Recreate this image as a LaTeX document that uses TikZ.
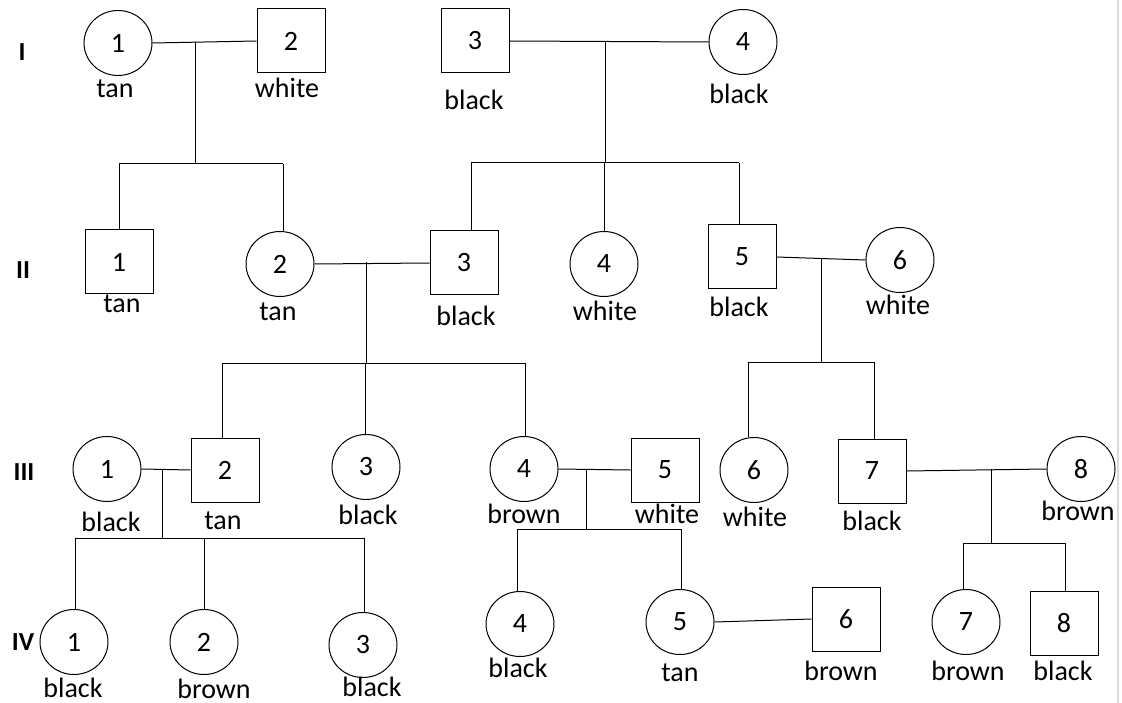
\documentclass[tikz,border=0pt]{standalone}
\usepackage{fontspec}
\setmainfont{Carlito}
\usetikzlibrary{shapes.geometric}
\begin{document}
\begin{tikzpicture}[x=1pt,y=-1pt, line width=1pt,
  fem/.style={draw, ellipse, minimum width=68pt, minimum height=65pt, inner sep=0pt, font=\fontsize{28}{32}\selectfont},
  mal/.style={draw, rectangle, minimum width=68pt, minimum height=64pt, inner sep=0pt, font=\fontsize{28}{32}\selectfont},
  lab/.style={anchor=base, inner sep=0pt, font=\fontsize{28}{32}\selectfont},
  gen/.style={inner sep=0pt, font=\fontsize{26}{30}\selectfont\bfseries},
  ]
\useasboundingbox (0,0) rectangle (1122,703);
\draw[black!15, line width=1.5pt] (1118,0) -- (1118,703);

% generation labels
\node[gen] (g1) at (22,52) {I};
\node[gen] (g2) at (23,270) {II};
\node[gen] (g3) at (24,472) {III};
\node[gen] (g4) at (23,642) {IV};

% generation I
\node[fem] (i1) at (118,43) {1};
\node[mal] (i2) at (291,41) {2};
\node[mal] (i3) at (475,41) {3};
\node[fem] (i4) at (743,42) {4};
\node[lab] (li1) at (115,98) {tan};
\node[lab] (li2) at (287,98) {white};
\node[lab] (li3) at (474,110) {black};
\node[lab] (li4) at (739,104) {black};

% generation II
\node[mal] (ii1) at (119,262) {1};
\node[fem] (ii2) at (280,264) {2};
\node[mal] (ii3) at (464,263) {3};
\node[fem] (ii4) at (604,264) {4};
\node[mal] (ii5) at (742,257) {5};
\node[fem] (ii6) at (900,260) {6};
\node[lab] (lii1) at (122,313) {tan};
\node[lab] (lii2) at (278,321) {tan};
\node[lab] (lii3) at (466,326) {black};
\node[lab] (lii4) at (605,321) {white};
\node[lab] (lii5) at (739,317) {black};
\node[lab] (lii6) at (898,315) {white};

% generation III
\node[fem] (iii1) at (107,469) {1};
\node[mal] (iii2) at (225,470) {2};
\node[fem] (iii3) at (366,467) {3};
\node[fem] (iii4) at (524,469) {4};
\node[mal] (iii5) at (665,470) {5};
\node[fem] (iii6) at (754,470) {6};
\node[mal] (iii7) at (872,471) {7};
\node[fem] (iii8) at (1081,469) {8};
\node[lab] (liii1) at (111,531) {black};
\node[lab] (liii2) at (223,529) {tan};
\node[lab] (liii3) at (368,524) {black};
\node[lab] (liii4) at (524,523) {brown};
\node[lab] (liii5) at (667,523) {white};
\node[lab] (liii6) at (755,526) {white};
\node[lab] (liii7) at (872,530) {black};
\node[lab] (liii8) at (1078,520) {brown};

% generation IV
\node[fem] (iv1) at (74,642) {1};
\node[fem] (iv2) at (204,642) {2};
\node[fem] (iv3) at (363,645) {3};
\node[fem] (iv4) at (520,624) {4};
\node[fem] (iv5) at (680,622) {5};
\node[mal] (iv6) at (846,619) {6};
\node[fem] (iv7) at (966,622) {7};
\node[mal] (iv8) at (1064,623) {8};
\node[lab] (liv1) at (73,697) {black};
\node[lab] (liv2) at (214,698) {brown};
\node[lab] (liv3) at (372,696) {black};
\node[lab] (liv4) at (518,677) {black};
\node[lab] (liv5) at (680,681) {tan};
\node[lab] (liv6) at (841,680) {brown};
\node[lab] (liv7) at (968,680) {brown};
\node[lab] (liv8) at (1063,680) {black};

% marriage points and sibship lines
\coordinate (m1) at (195,42);   \coordinate (s1) at (195,164);
\coordinate (s1l) at (119,164); \coordinate (s1r) at (283,164);
\coordinate (m2) at (605,42);   \coordinate (s2) at (605,163);
\coordinate (s2l) at (471,163); \coordinate (s2m) at (604,163); \coordinate (s2r) at (739,163);
\coordinate (m3) at (366,262);  \coordinate (s3) at (366,363);
\coordinate (s3l) at (222,363); \coordinate (s3m) at (365,363); \coordinate (s3r) at (525,363);
\coordinate (m4) at (821,258);  \coordinate (s4) at (821,362);
\coordinate (s4l) at (748,362); \coordinate (s4r) at (874,362);
\coordinate (m5) at (162,470);  \coordinate (s5) at (162,538);
\coordinate (s5l) at (75,538);  \coordinate (s5m) at (204,538); \coordinate (s5r) at (364,538);
\coordinate (m6) at (586,470);  \coordinate (s6) at (586,529);
\coordinate (s6l) at (517,529); \coordinate (s6r) at (681,529);
\coordinate (m7) at (991,469);  \coordinate (s7) at (991,543);
\coordinate (s7l) at (963,543); \coordinate (s7r) at (1065,543);

% marriages
\draw (i1.east) -- (i2.west);
\draw (i3.east) -- (i4.west);
\draw (ii2.east) -- (ii3.west);
\draw (ii5.east) -- (ii6.west);
\draw (iii1.east) -- (iii2.west);
\draw (iii4.east) -- (iii5.west);
\draw (iii7.east) -- (iii8.west);
\draw (iv5.east) -- (iv6.west);

% descent
\draw (m1) -- (s1);  \draw (s1l) -- (s1r);
\draw (s1l) -- (s1l |- ii1.north);
\draw (s1r) -- (s1r |- ii2.north);

\draw (m2) -- (s2);  \draw (s2l) -- (s2r);
\draw (s2l) -- (s2l |- ii3.north);
\draw (s2m) -- (s2m |- ii4.north);
\draw (s2r) -- (s2r |- ii5.north);

\draw (m3) -- (s3);  \draw (s3l) -- (s3r);
\draw (s3l) -- (s3l |- iii2.north);
\draw (s3m) -- (s3m |- iii3.north);
\draw (s3r) -- (s3r |- iii4.north);

\draw (m4) -- (s4);  \draw (s4l) -- (s4r);
\draw (s4l) -- (s4l |- iii6.north);
\draw (s4r) -- (s4r |- iii7.north);

\draw (m5) -- (s5);  \draw (s5l) -- (s5r);
\draw (s5l) -- (s5l |- iv1.north);
\draw (s5m) -- (s5m |- iv2.north);
\draw (s5r) -- (s5r |- iv3.north);

\draw (m6) -- (s6);  \draw (s6l) -- (s6r);
\draw (s6l) -- (s6l |- iv4.north);
\draw (s6r) -- (s6r |- iv5.north);

\draw (m7) -- (s7);  \draw (s7l) -- (s7r);
\draw (s7l) -- (s7l |- iv7.north);
\draw (s7r) -- (s7r |- iv8.north);
\end{tikzpicture}
\end{document}
